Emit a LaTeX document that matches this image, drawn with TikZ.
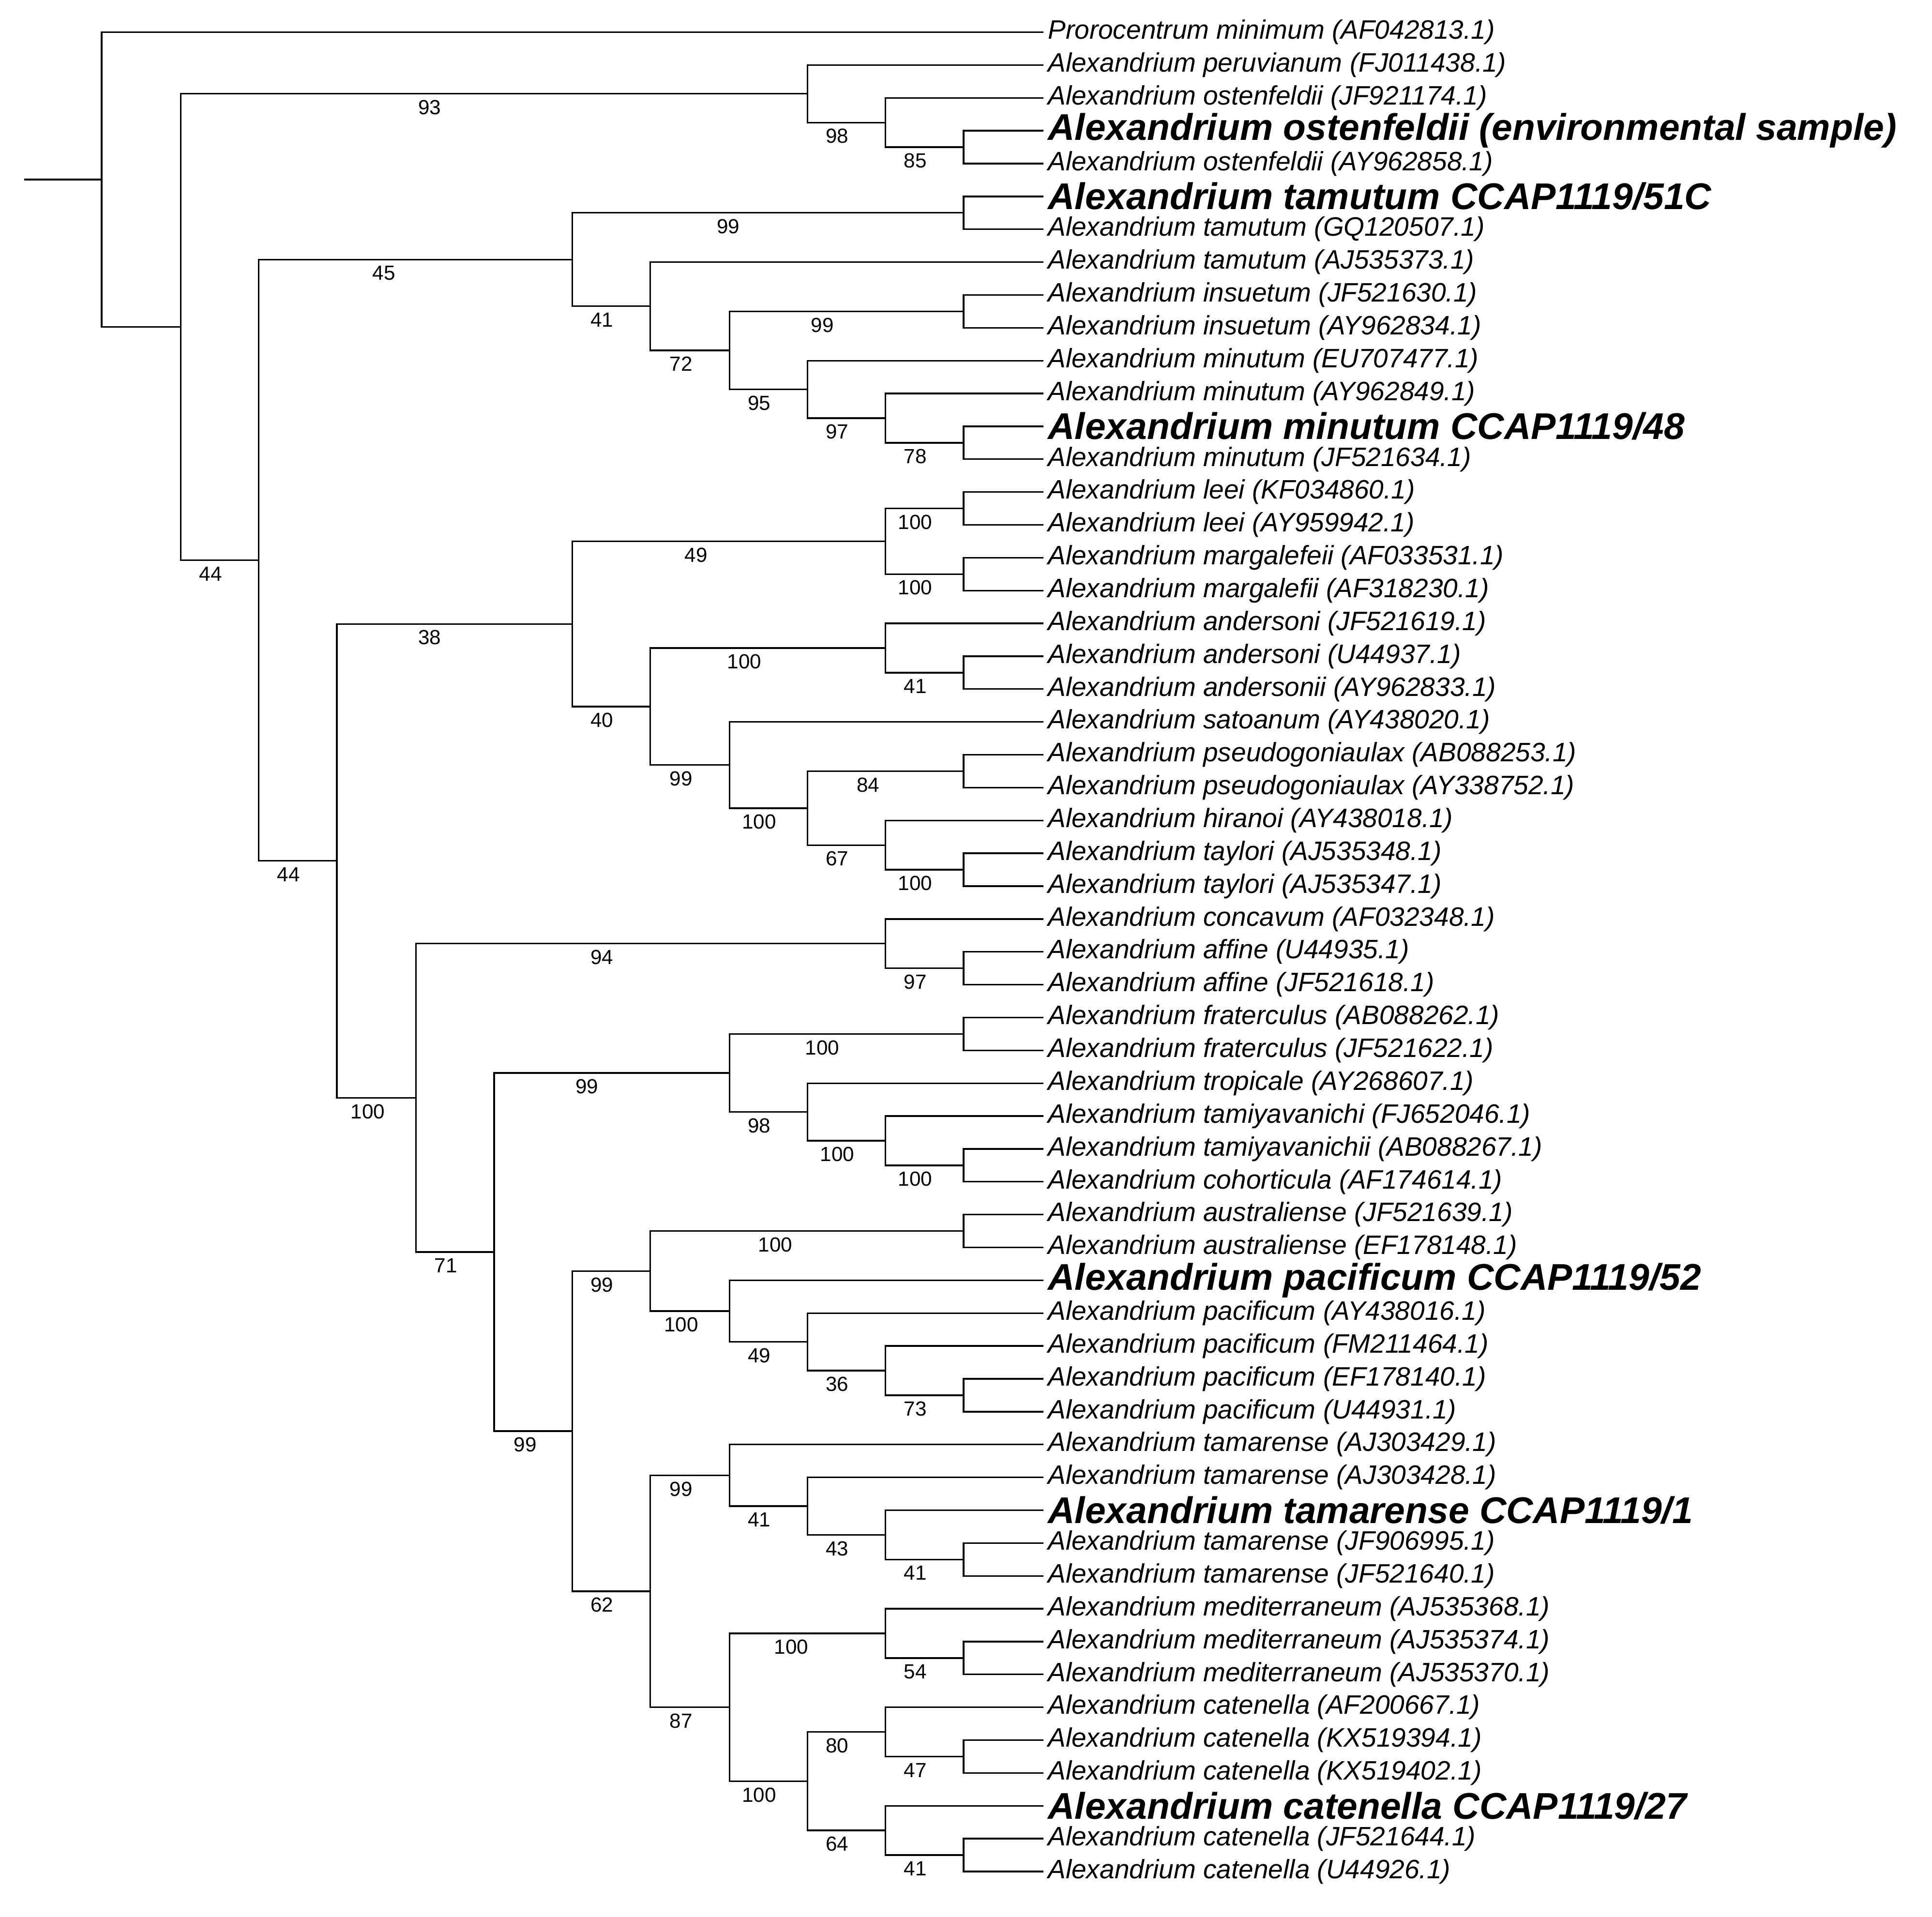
\documentclass[tikz,border=0pt]{standalone}
\usepackage{fontspec}
\setmainfont{Liberation Sans}
\usetikzlibrary{calc}
\tikzset{
 br/.style={line width=1.3pt, line cap=rect},
 leafn/.style={anchor=west, inner sep=0pt, font=\fontsize{21.5}{23}\selectfont\itshape},
 leafb/.style={anchor=west, inner sep=0pt, font=\fontsize{30}{32}\selectfont\bfseries\itshape},
 lab/.style={inner sep=0pt, font=\fontsize{16.5}{18}\selectfont}
}
\newcommand\lf[3]{\coordinate (L#1) at (842,{26+(#1-1)*26.52});
 \node[#2] (t#1) at (846,{26+(#1-1)*26.52}) {#3};}
\newcommand\nd[6]{%
 \path let \p1=($(#3)!0.5!(#4)$) in coordinate (#1) at (#2pt-3pt,\y1);
 \draw[br] (#1|-#3) -- (#3);
 \draw[br] (#1|-#4) -- (#4);
 \draw[br] (#1|-#3) -- (#1|-#4);
 \ifx&#5&\else\path (#1) ++({#6-#2},11) node[lab] (b#1) {#5};\fi}
\newcommand\A{Alexandrium}
\begin{document}
\begin{tikzpicture}[x=1pt,y=-1pt]
\useasboundingbox (0,0) rectangle (1560,1547.5);
\lf{1}{leafn}{Prorocentrum minimum (AF042813.1)}
\lf{2}{leafn}{\A\ peruvianum (FJ011438.1)}
\lf{3}{leafn}{\A\ ostenfeldii (JF921174.1)}
\lf{4}{leafb}{\A\ ostenfeldii (environmental sample)}
\lf{5}{leafn}{\A\ ostenfeldii (AY962858.1)}
\lf{6}{leafb}{\A\ tamutum CCAP1119/51C}
\lf{7}{leafn}{\A\ tamutum (GQ120507.1)}
\lf{8}{leafn}{\A\ tamutum (AJ535373.1)}
\lf{9}{leafn}{\A\ insuetum (JF521630.1)}
\lf{10}{leafn}{\A\ insuetum (AY962834.1)}
\lf{11}{leafn}{\A\ minutum (EU707477.1)}
\lf{12}{leafn}{\A\ minutum (AY962849.1)}
\lf{13}{leafb}{\A\ minutum CCAP1119/48}
\lf{14}{leafn}{\A\ minutum (JF521634.1)}
\lf{15}{leafn}{\A\ leei (KF034860.1)}
\lf{16}{leafn}{\A\ leei (AY959942.1)}
\lf{17}{leafn}{\A\ margalefeii (AF033531.1)}
\lf{18}{leafn}{\A\ margalefii (AF318230.1)}
\lf{19}{leafn}{\A\ andersoni (JF521619.1)}
\lf{20}{leafn}{\A\ andersoni (U44937.1)}
\lf{21}{leafn}{\A\ andersonii (AY962833.1)}
\lf{22}{leafn}{\A\ satoanum (AY438020.1)}
\lf{23}{leafn}{\A\ pseudogoniaulax (AB088253.1)}
\lf{24}{leafn}{\A\ pseudogoniaulax (AY338752.1)}
\lf{25}{leafn}{\A\ hiranoi (AY438018.1)}
\lf{26}{leafn}{\A\ taylori (AJ535348.1)}
\lf{27}{leafn}{\A\ taylori (AJ535347.1)}
\lf{28}{leafn}{\A\ concavum (AF032348.1)}
\lf{29}{leafn}{\A\ affine (U44935.1)}
\lf{30}{leafn}{\A\ affine (JF521618.1)}
\lf{31}{leafn}{\A\ fraterculus (AB088262.1)}
\lf{32}{leafn}{\A\ fraterculus (JF521622.1)}
\lf{33}{leafn}{\A\ tropicale (AY268607.1)}
\lf{34}{leafn}{\A\ tamiyavanichi (FJ652046.1)}
\lf{35}{leafn}{\A\ tamiyavanichii (AB088267.1)}
\lf{36}{leafn}{\A\ cohorticula (AF174614.1)}
\lf{37}{leafn}{\A\ australiense (JF521639.1)}
\lf{38}{leafn}{\A\ australiense (EF178148.1)}
\lf{39}{leafb}{\A\ pacificum CCAP1119/52}
\lf{40}{leafn}{\A\ pacificum (AY438016.1)}
\lf{41}{leafn}{\A\ pacificum (FM211464.1)}
\lf{42}{leafn}{\A\ pacificum (EF178140.1)}
\lf{43}{leafn}{\A\ pacificum (U44931.1)}
\lf{44}{leafn}{\A\ tamarense (AJ303429.1)}
\lf{45}{leafn}{\A\ tamarense (AJ303428.1)}
\lf{46}{leafb}{\A\ tamarense CCAP1119/1}
\lf{47}{leafn}{\A\ tamarense (JF906995.1)}
\lf{48}{leafn}{\A\ tamarense (JF521640.1)}
\lf{49}{leafn}{\A\ mediterraneum (AJ535368.1)}
\lf{50}{leafn}{\A\ mediterraneum (AJ535374.1)}
\lf{51}{leafn}{\A\ mediterraneum (AJ535370.1)}
\lf{52}{leafn}{\A\ catenella (AF200667.1)}
\lf{53}{leafn}{\A\ catenella (KX519394.1)}
\lf{54}{leafn}{\A\ catenella (KX519402.1)}
\lf{55}{leafb}{\A\ catenella CCAP1119/27}
\lf{56}{leafn}{\A\ catenella (JF521644.1)}
\lf{57}{leafn}{\A\ catenella (U44926.1)}
% ostenfeldii clade
\nd{C}{781}{L4}{L5}{85}{742}
\nd{B}{718}{L3}{C}{98}{679}
\nd{A}{655}{L2}{B}{93}{350}
% tamutum / minutum
\nd{D}{781}{L6}{L7}{99}{591}
\nd{G}{781}{L9}{L10}{99}{667}
\nd{J}{781}{L13}{L14}{78}{742}
\nd{I}{718}{L12}{J}{97}{679}
\nd{H}{655}{L11}{I}{95}{616}
\nd{F}{592}{G}{H}{72}{553}
\nd{E}{528}{L8}{F}{41}{489}
\nd{T}{465}{D}{E}{45}{313}
% leei ... taylori
\nd{La}{781}{L15}{L16}{100}{742}
\nd{Lb}{781}{L17}{L18}{100}{742}
\nd{Lc}{718}{La}{Lb}{49}{565}
\nd{Na}{781}{L20}{L21}{41}{742}
\nd{Nb}{718}{L19}{Na}{100}{604}
\nd{Q}{781}{L23}{L24}{84}{704}
\nd{S}{781}{L26}{L27}{100}{742}
\nd{R}{718}{L25}{S}{67}{679}
\nd{P}{655}{Q}{R}{100}{616}
\nd{O}{592}{L22}{P}{99}{553}
\nd{M}{528}{Nb}{O}{40}{489}
\nd{K}{465}{Lc}{M}{38}{350}
% concavum / affine
\nd{Ua}{781}{L29}{L30}{97}{742}
\nd{U}{718}{L28}{Ua}{94}{489}
% fraterculus ...
\nd{Wa}{781}{L31}{L32}{100}{667}
\nd{Za}{781}{L35}{L36}{100}{742}
\nd{Z}{718}{L34}{Za}{100}{679}
\nd{Y}{655}{L33}{Z}{98}{616}
\nd{W}{592}{Wa}{Y}{99}{477}
% australiense / pacificum
\nd{AAa}{781}{L37}{L38}{100}{629}
\nd{AF}{781}{L42}{L43}{73}{742}
\nd{AE}{718}{L41}{AF}{36}{679}
\nd{AD}{655}{L40}{AE}{49}{616}
\nd{AC}{592}{L39}{AD}{100}{553}
\nd{AA}{528}{AAa}{AC}{99}{489}
% tamarense
\nd{AK}{781}{L47}{L48}{41}{742}
\nd{AJ}{718}{L46}{AK}{43}{679}
\nd{AI}{655}{L45}{AJ}{41}{616}
\nd{AG}{592}{L44}{AI}{99}{553}
% mediterraneum / catenella
\nd{AN}{781}{L50}{L51}{54}{742}
\nd{AL}{718}{L49}{AN}{100}{642}
\nd{AQ}{781}{L53}{L54}{47}{742}
\nd{AO}{718}{L52}{AQ}{80}{679}
\nd{AR}{781}{L56}{L57}{41}{742}
\nd{AP}{718}{L55}{AR}{64}{679}
\nd{AM}{655}{AO}{AP}{100}{616}
\nd{AH}{592}{AL}{AM}{87}{553}
\nd{AB}{528}{AG}{AH}{62}{489}
\nd{X}{465}{AA}{AB}{99}{427}
\nd{V}{402}{W}{X}{71}{363}
\nd{N339}{339}{U}{V}{100}{300}
\nd{N275}{275}{K}{N339}{44}{236}
\nd{N212}{212}{T}{N275}{44}{173}
\nd{N149}{149}{A}{N212}{}{0}
\nd{N85}{85}{L1}{N149}{}{0}
\coordinate (root) at (20,0);
\draw[br] (root|-N85) -- (N85);
\end{tikzpicture}
\end{document}
